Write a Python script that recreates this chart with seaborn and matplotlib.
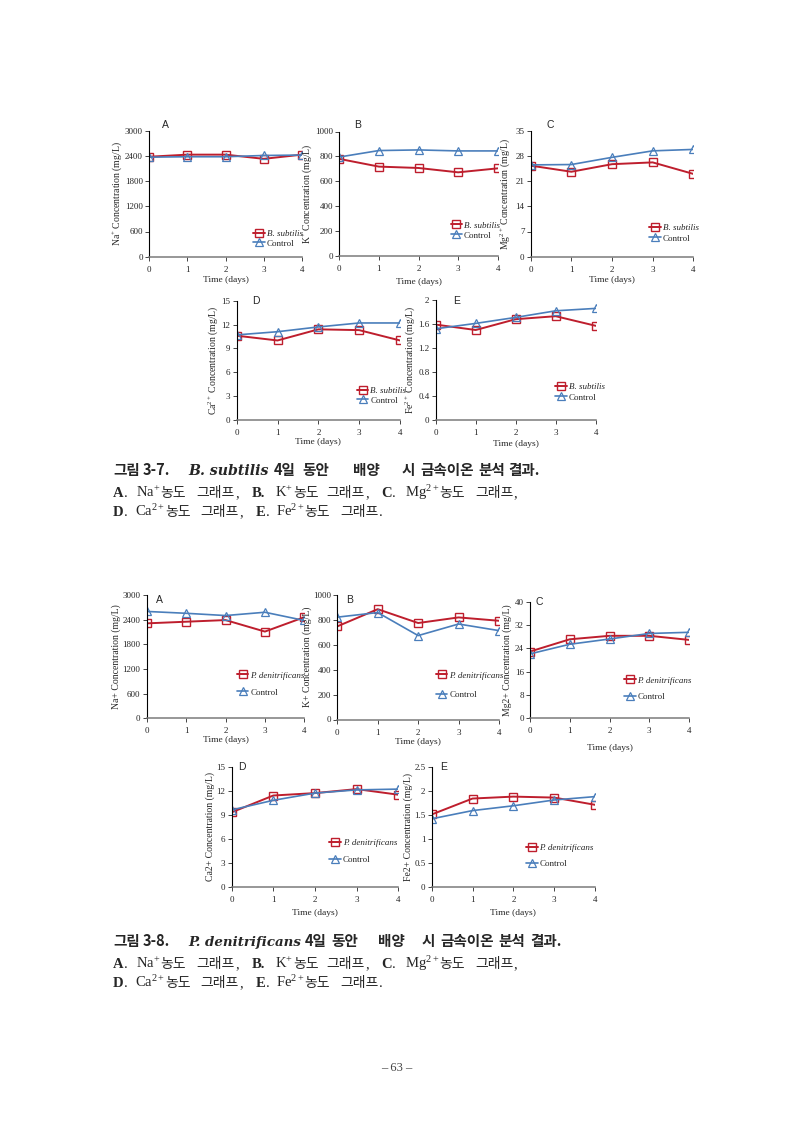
import numpy as np
import pandas as pd
import matplotlib
matplotlib.use('Agg')
import matplotlib.pyplot as plt
import seaborn as sns

### values ###
days = [0, 1, 2, 3, 4]

# Fig 3-7, B. subtilis vs control
na_bs = [2380, 2430, 2430, 2330, 2430]
na_bs_c = [2370, 2380, 2380, 2410, 2420]
k_bs = [780, 718, 707, 672, 704]
k_bs_c = [795, 847, 852, 844, 844]
mg_bs = [25.3, 23.6, 25.7, 26.2, 23.0]
mg_bs_c = [25.5, 25.6, 27.6, 29.4, 29.8]
ca_bs = [10.6, 10.0, 11.4, 11.3, 10.0]
ca_bs_c = [10.7, 11.1, 11.7, 12.2, 12.2]
fe_bs = [1.59, 1.50, 1.68, 1.73, 1.57]
fe_bs_c = [1.52, 1.61, 1.71, 1.82, 1.86]

# Fig 3-8, P. denitrificans vs control
na_pd = [2310, 2350, 2390, 2110, 2460]
na_pd_c = [2600, 2555, 2500, 2580, 2380]
k_pd = [748, 886, 775, 820, 793]
k_pd_c = [822, 859, 674, 767, 714]
mg_pd = [22.9, 27.1, 28.3, 28.3, 26.9]
mg_pd_c = [22.1, 25.4, 27.2, 29.1, 29.5]
ca_pd = [9.3, 11.4, 11.7, 12.2, 11.5]
ca_pd_c = [9.6, 10.8, 11.7, 12.1, 12.2]
fe_pd = [1.51, 1.84, 1.88, 1.86, 1.71]
fe_pd_c = [1.42, 1.59, 1.69, 1.81, 1.88]

ticks_na = [0, 600, 1200, 1800, 2400, 3000]
ticks_k = [0, 200, 400, 600, 800, 1000]
ticks_mg_bs = [0, 7, 14, 21, 28, 35]
ticks_mg_pd = [0, 8, 16, 24, 32, 40]
ticks_ca = [0, 3, 6, 9, 12, 15]
ticks_fe_bs = [0, 0.4, 0.8, 1.2, 1.6, 2]
ticks_fe_pd = [0, 0.5, 1, 1.5, 2, 2.5]

### style ###
sns.set_style('ticks')
plt.rcParams['font.family'] = ['Liberation Serif', 'DejaVu Serif', 'Noto Sans CJK KR']
plt.rcParams['mathtext.fontset'] = 'custom'
plt.rcParams['mathtext.rm'] = 'Liberation Serif'
plt.rcParams['mathtext.it'] = 'Liberation Serif:italic'

W, H = 793, 1121
RED = '#BE1E2D'
BLUE = '#4A7EBB'
fig = plt.figure(figsize=(W / 100, H / 100), dpi=100)

def fx(px):
    return px / W

def fy(py):
    return 1 - py / H

# (box x0, x1, ytop, ybot), treatment, control, ticks, ylabel, letter, letter px, ylabel x, xlabel y, legend px, species
panels = [
    ((149, 302, 130.7, 256.7), na_bs, na_bs_c, ticks_na, r'Na$^{+}$ Concentration (mg/L)', 'A', (165, 125), 121.7, 280, (253, 235, 246.7), 'B. subtilis'),
    ((339.3, 497.7, 131.5, 256), k_bs, k_bs_c, ticks_k, r'K$^{+}$ Concentration (mg/L)', 'B', (358, 125), 315, 281.7, (450.5, 226.7, 238.7), 'B. subtilis'),
    ((530.7, 693.3, 130.7, 256.7), mg_bs, mg_bs_c, ticks_mg_bs, r'Mg$^{2+}$ Concentration (mg/L)', 'C', (550, 125), 505.5, 280, (649, 229.3, 241.7), 'B. subtilis'),
    ((236.7, 400, 300.7, 420), ca_bs, ca_bs_c, ticks_ca, r'Ca$^{2+}$ Concentration (mg/L)', 'D', (256, 301), 218.3, 441.7, (356.7, 392.3, 403.7), 'B. subtilis'),
    ((435.7, 595.7, 300, 420), fe_bs, fe_bs_c, ticks_fe_bs, r'Fe$^{2+}$ Concentration (mg/L)', 'E', (456.7, 301), 413.3, 444.3, (555, 388.3, 400.7), 'B. subtilis'),
    ((146.7, 304.3, 595, 718.3), na_pd, na_pd_c, ticks_na, 'Na+ Concentration (mg/L)', 'A', (159.3, 600), 120, 740, (236.7, 676.7, 695.7), 'P. denitrificans'),
    ((337.3, 499, 595, 719.5), k_pd, k_pd_c, ticks_k, 'K+ Concentration (mg/L)', 'B', (349.3, 600), 313.3, 741.7, (435.7, 676.7, 698), 'P. denitrificans'),
    ((530, 689, 601.7, 718.3), mg_pd, mg_pd_c, ticks_mg_pd, 'Mg2+ Concentration (mg/L)', 'C', (539.3, 601.7), 506.7, 748, (624, 681.7, 700), 'P. denitrificans'),
    ((231.7, 398.3, 766.7, 886.7), ca_pd, ca_pd_c, ticks_ca, 'Ca2+ Concentration (mg/L)', 'D', (241.7, 767.3), 211.7, 913, (329.3, 844.3, 863.3), 'P. denitrificans'),
    ((431.7, 595, 766.7, 887.3), fe_pd, fe_pd_c, ticks_fe_pd, 'Fe2+ Concentration (mg/L)', 'E', (443.3, 767.3), 409.3, 913, (526, 849, 867.3), 'P. denitrificans'),
]

FS = 6.5
fs_px = FS * 100 / 72
axes_info = []

for box, treat, ctrl, yt, ylab, letter, lpos, ylx, xly, leg, species in panels:
    x0, x1, ytop, ybot = box
    ax = fig.add_axes([fx(x0), fy(ybot), (x1 - x0) / W, (ybot - ytop) / H])
    sns.lineplot(x=days, y=treat, ax=ax, color=RED, marker='s', markersize=6,
                 mfc='none', mec=RED, mew=1.0, lw=1.4, label=species)
    sns.lineplot(x=days, y=ctrl, ax=ax, color=BLUE, marker='^', markersize=6,
                 mfc='none', mec=BLUE, mew=0.9, lw=1.2, label='Control')
    ax.set_xlim(0, 4)
    ax.set_ylim(yt[0], yt[-1])
    ax.set_xticks(days)
    ax.set_yticks(yt)
    ax.set_yticklabels(['{:g}'.format(v) for v in yt])
    for s in ['top', 'right']:
        ax.spines[s].set_visible(False)
    ax.spines['left'].set_linewidth(0.8)
    ax.spines['left'].set_color('black')
    ax.spines['bottom'].set_linewidth(1.1)
    ax.spines['bottom'].set_color('#7a7a7a')
    ax.tick_params(axis='y', length=3, width=0.6, pad=1.5, labelsize=FS)
    ax.tick_params(axis='x', length=3, width=0.6, pad=3.5, labelsize=FS)
    ax.set_ylabel(ylab, fontsize=7)
    ax.set_xlabel('Time (days)', fontsize=6.8)
    ax.xaxis.label.set_va('center')
    ax.yaxis.label.set_va('center')
    fig.text(fx(lpos[0]), fy(lpos[1]), letter, family='Liberation Sans', fontsize=7.5,
             ha='center', va='center')
    lx, r1, r2 = leg
    ls = max(0.0, (r2 - r1) / fs_px - 1.15)
    lg = ax.legend(loc='upper left', bbox_to_anchor=(fx(lx), fy(r1 - 0.6 * fs_px)),
                   bbox_transform=fig.transFigure, borderpad=0, borderaxespad=0,
                   handlelength=1.3, handletextpad=0.2, labelspacing=ls,
                   frameon=False, fontsize=FS, numpoints=1)
    lg.get_texts()[0].set_fontstyle('italic')
    axes_info.append((ax, box, ylx, xly))

# keep axis labels next to, not on top of, the tick labels
fig.canvas.draw()
renderer = fig.canvas.get_renderer()
for ax, (x0, x1, ytop, ybot), ylx, xly in axes_info:
    tl_left = min(t.get_window_extent(renderer).x0 for t in ax.get_yticklabels())
    lab_w = ax.yaxis.label.get_window_extent(renderer).width
    ylx_px = min(ylx, tl_left - lab_w / 2 - 1.0)
    ax.yaxis.set_label_coords((ylx_px - x0) / (x1 - x0), 0.5)
    tl_bot = min(t.get_window_extent(renderer).y0 for t in ax.get_xticklabels())
    tl_bot_px = H - tl_bot
    lab_h = ax.xaxis.label.get_window_extent(renderer).height
    xly_px = max(xly, tl_bot_px + lab_h / 2 + 0.5)
    ax.xaxis.set_label_coords(0.5, -(xly_px - ybot) / (ybot - ytop))

### captions ###
KR = ['Noto Sans CJK KR']
LAT = ['Liberation Serif', 'DejaVu Serif', 'Noto Sans CJK KR']

def run(x, y, parts):
    # draw text pieces one after another on a shared baseline
    for s, kw in parts:
        t = fig.text(fx(x), fy(y), s, va='baseline', ha='left', **kw)
        x += t.get_window_extent(renderer).width

def fitted(x, y, s, target, **kw):
    t = fig.text(fx(x), fy(y), s, va='baseline', ha='left', fontsize=10, **kw)
    w = t.get_window_extent(renderer).width
    t.set_fontsize(10 * target / w)

def caption(y0, num, species, sp_w, xs):
    b = dict(family=KR, fontsize=10.5, weight='bold')
    run(113, y0, [('그림', b)])
    run(143, y0, [(num, b)])
    fitted(188, y0, species, sp_w, family='DejaVu Serif', weight='bold', style='italic')
    words = ['4일', '동안', '배양', '시', '금속이온', '분석', '결과.']
    for w, xx in zip(words, xs):
        run(xx, y0, [(w, b)])
    lb = dict(family='Liberation Serif', fontsize=10.5, weight='bold')
    lr = dict(family=LAT, fontsize=10.5)
    kr = dict(family=KR, fontsize=10)
    y1 = y0 + 22
    run(113, y1, [('A', lb), ('.', lr)])
    run(136, y1, [(r'Na$^{+}$', lr), ('농도', kr)])
    run(196.7, y1, [('그래프', kr), (',', lr)])
    run(251.7, y1, [('B.', lb)])
    run(275, y1, [(r'K$^{+}$', lr), ('농도', kr)])
    run(326.7, y1, [('그래프', kr), (',', lr)])
    run(381.7, y1, [('C', lb), ('.', lr)])
    run(405, y1, [(r'Mg$^{2+}$', lr), ('농도', kr)])
    run(475, y1, [('그래프', kr), (',', lr)])
    y2 = y0 + 41
    run(113, y2, [('D', lb), ('.', lr)])
    run(135, y2, [(r'Ca$^{2+}$', lr), ('농도', kr)])
    run(200.7, y2, [('그래프', kr), (',', lr)])
    run(256, y2, [('E', lb), ('.', lr)])
    run(276, y2, [(r'Fe$^{2+}$', lr), ('농도', kr)])
    run(340.7, y2, [('그래프', kr), ('.', lr)])

caption(475, '3-7.', 'B. subtilis', 80, [274, 302, 353, 402, 420, 478, 508])
caption(945.7, '3-8.', 'P. denitrificans', 113, [305, 331.7, 378, 421.7, 440, 498, 530])

fig.text(fx(397), fy(1068), '\u2013 63 \u2013', family='Liberation Serif', fontsize=9,
         color='#444444', ha='center', va='center')

fig.savefig('out.png', dpi=100)
